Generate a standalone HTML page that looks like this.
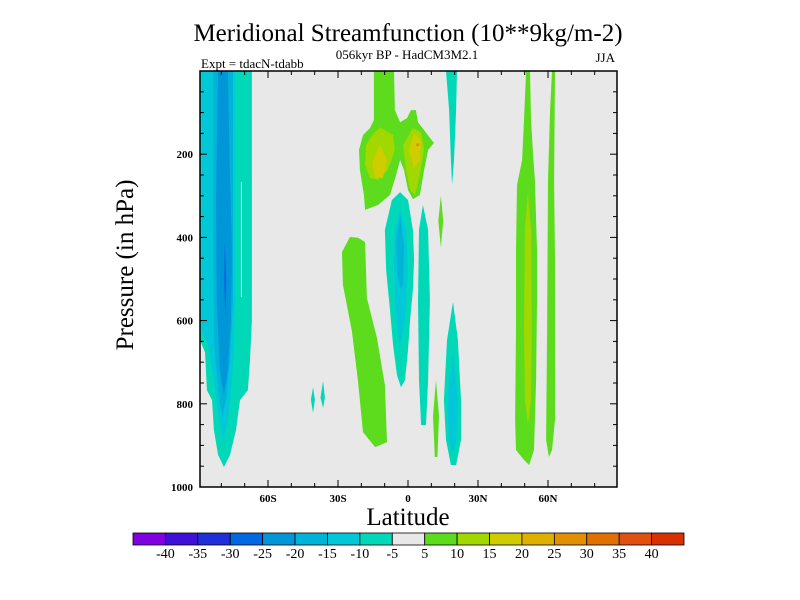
<!DOCTYPE html>
<html><head><meta charset="utf-8"><style>
body{margin:0;background:#fff;}
svg{display:block;font-family:"Liberation Serif",serif;}
</style></head><body>
<svg id="chart" width="800" height="600" viewBox="0 0 800 600">
<text x="408" y="41" font-size="25" text-anchor="middle">Meridional Streamfunction (10**9kg/m-2)</text>
<text x="407" y="59" font-size="13" text-anchor="middle">056kyr BP - HadCM3M2.1</text>
<text x="201" y="68" font-size="13">Expt = tdacN-tdabb</text>
<text x="615" y="62" font-size="13" text-anchor="end">JJA</text>
<text transform="translate(133,265) rotate(-90)" font-size="25" text-anchor="middle">Pressure (in hPa)</text>
<text x="408" y="525" font-size="25" text-anchor="middle">Latitude</text>
<g id="plot"></g>
<g id="cbar"></g>
</svg>
<script>
const levelColors = ["#8000e0","#4010d8","#2030d8","#0068e0","#0096d8","#00b4d8","#00c8d8","#00d8b8","#e8e8e8","#5cdc1c","#a0d800","#d0cc00","#e0b000","#e09000","#e07000","#e05010","#d83000"];
const cbarLabels = ["-40","-35","-30","-25","-20","-15","-10","-5","5","10","15","20","25","30","35","40"];
const latTicks = [-60,-30,0,30,60];
const latTickLabels = ["60S","30S","0","30N","60N"];
const presTicks = [200,400,600,800,1000];
// contour regions: value level and polygon as [lat, pressure]
const regionLevels = [-5,-10,-15,-20,-25,0, 5,10,10,15,15,20, 5,5,5, -5,-10,-15, -5,-5,-5,-10,-5,-5, 5,10,5];
const regionShapes = [
 [[-89.2,0],[-66.9,0],[-66.9,599],[-67.7,695],[-68.6,767],[-72,791],[-73.7,863],[-76.3,923],[-78.9,952],[-81.4,923],[-83.2,863],[-84,791],[-86.2,767],[-87,676],[-89.2,647]],
 [[-88.3,0],[-74.2,0],[-74.2,551],[-74.6,671],[-75.4,743],[-77.2,839],[-79.3,892],[-81,839],[-83.2,743],[-85.7,659],[-88.3,623]],
 [[-83.6,0],[-75,0],[-75,551],[-76.3,695],[-78,791],[-79.7,834],[-81.4,767],[-83.2,647],[-83.6,310]],
 [[-81.4,0],[-77.2,0],[-76.3,262],[-75.4,430],[-75.9,599],[-77.2,719],[-78.9,779],[-80.6,719],[-82,551],[-82.3,310]],
 [[-78.6,411],[-77.8,500],[-78.2,594],[-78.9,500]],
 [[-71.6,267],[-71.2,267],[-71.2,543],[-71.6,543]],
 [[-14.6,0],[-6,0],[-5.6,94],[-3.4,123],[-0.4,113],[1.3,94],[3.4,94],[4.3,123],[6.9,142],[11.1,173],[8.6,190],[6.9,238],[5.1,298],[2.1,308],[0,286],[-1.7,238],[-3.4,214],[-5.1,250],[-7.7,298],[-12.9,322],[-18.4,334],[-18.9,298],[-20.6,238],[-21,190],[-19.3,154],[-16.3,137],[-14.6,118]],
 [[-12,135],[-6.4,154],[-5.6,190],[-8.6,238],[-12.9,262],[-16.3,257],[-18.4,226],[-18,178],[-15.4,154]],
 [[2.1,137],[5.6,147],[6.9,190],[5.1,250],[3,298],[0.9,286],[-0.9,238],[-2.1,178]],
 [[-12,178],[-9,214],[-10.7,257],[-14.1,257],[-15.4,219]],
 [[2.6,149],[5.6,166],[5.1,214],[2.6,233],[0.4,190]],
 [[3.5,174],[4.8,174],[4.8,180],[3.5,180]],
 [[-24.9,399],[-21.4,401],[-18.4,411],[-17.6,546],[-13.3,642],[-9.9,755],[-9,892],[-14.1,904],[-19.3,868],[-21.4,748],[-24,627],[-27.9,514],[-28.3,435]],
 [[14.1,300],[15.1,360],[14.1,425],[13,360]],
 [[12,743],[13.3,830],[12.6,928],[11.5,928],[10.7,830]],
 [[-3.4,291],[0,310],[2.1,382],[2.6,454],[2.1,526],[0.9,599],[0,671],[-1.3,743],[-3,760],[-4.7,731],[-6.4,659],[-7.7,575],[-9.4,478],[-9.9,382],[-6.9,310]],
 [[-3.4,334],[-0.9,382],[0,478],[-1.3,599],[-3.4,659],[-5.1,599],[-6,478],[-5.6,382]],
 [[-3.4,346],[-1.7,418],[-2.1,514],[-3.4,526],[-4.7,478],[-5.1,406]],
 [[6.4,322],[8.6,382],[9.4,551],[8.6,743],[7.7,851],[5.6,851],[4.7,743],[4.3,551],[4.7,382]],
 [[16.3,0],[21,0],[20.6,94],[19.7,214],[18.9,274],[18.4,214],[17.6,94]],
 [[19.3,555],[21.4,647],[22.7,791],[22.7,887],[20.6,947],[18.4,947],[16.3,887],[15.4,791],[16.7,647]],
 [[19.3,671],[21.4,791],[20.6,887],[19.3,923],[17.6,887],[16.7,791]],
 [[-40.7,760],[-39.9,790],[-40.7,822],[-41.6,790]],
 [[-36.4,745],[-35.6,785],[-36.4,810],[-37.5,785]],
 [[50.6,0],[52.3,0],[52.7,113],[53.6,202],[54.4,262],[55.3,430],[55.3,551],[54.9,743],[54.4,839],[54,911],[51.9,947],[49.7,935],[46.3,911],[45.9,839],[46.3,623],[46.3,430],[46.7,274],[48.9,214],[49.7,118]],
 [[51.4,291],[52.7,382],[53.1,623],[52.7,791],[51.4,851],[50.1,791],[49.7,623],[50.1,382]],
 [[61.7,0],[63,0],[62.6,262],[63,454],[63,623],[63,839],[61.7,911],[60.4,928],[59.2,887],[59.6,623],[60,262],[60.9,94]]
];
const NS='http://www.w3.org/2000/svg';
const X0=200,X1=617,Y0=71,Y1=487;
function xs(lat){return 408+lat*70/30;}
function ys(p){return Y0+p*(Y1-Y0)/1000;}
function mk(tag,attrs,parent){const e=document.createElementNS(NS,tag);for(const k in attrs)e.setAttribute(k,attrs[k]);parent.appendChild(e);return e;}
function lvlColor(v){
  const map={"-25":"#0070e0","-20":"#0096d8","-15":"#00b4d8","-10":"#00c8d8","-5":"#00d8b8","0":"#e8e8e8","5":"#5cdc1c","10":"#a0d800","15":"#d0cc00","20":"#e09000"};
  return map[String(v)]||"#e8e8e8";
}
const plot=document.getElementById('plot');
const bg=mk('rect',{x:X0,y:Y0,width:X1-X0,height:Y1-Y0,fill:'#e8e8e8'},plot);


const clip=mk('clipPath',{id:'pc'},plot);mk('rect',{x:X0,y:Y0,width:X1-X0,height:Y1-Y0},clip);
const g=mk('g',{'clip-path':'url(#pc)'},plot);
regionShapes.forEach((pts,i)=>{
  const d=pts.map((q,j)=>(j?'L':'M')+xs(q[0]).toFixed(1)+','+ys(q[1]).toFixed(1)).join('')+'Z';
  const el=mk('path',{d:d,fill:lvlColor(regionLevels[i])},g);
  
  
});
const fr=mk('rect',{x:X0,y:Y0,width:X1-X0,height:Y1-Y0,fill:'none',stroke:'#000','stroke-width':1.5},plot);


for(let lat=-80;lat<=80;lat+=10){
  const x=xs(lat),L=(lat%30===0)?7:4;
  mk('line',{x1:x,x2:x,y1:Y1,y2:Y1-L,stroke:'#000'},plot);
  mk('line',{x1:x,x2:x,y1:Y0,y2:Y0+L,stroke:'#000'},plot);
}
latTicks.forEach((lat,i)=>{
  const t=mk('text',{x:xs(lat),y:502,'font-size':11,'text-anchor':'middle','font-weight':'bold'},plot);
  t.textContent=latTickLabels[i];
  
  
});
for(let p=50;p<1000;p+=50){
  const y=ys(p),L=(p%200===0)?7:4;
  mk('line',{x1:X0,x2:X0+L,y1:y,y2:y,stroke:'#000'},plot);
  mk('line',{x1:X1,x2:X1-L,y1:y,y2:y,stroke:'#000'},plot);
}
presTicks.forEach(p=>{
  const t=mk('text',{x:193,y:ys(p)+4,'font-size':11,'text-anchor':'end','font-weight':'bold'},plot);
  t.textContent=String(p);
  
  
});
const cb=document.getElementById('cbar');
const CX0=133,CX1=684,CY=533,CH=12,n=levelColors.length,bw=(CX1-CX0)/n;
levelColors.forEach((c,i)=>{
  const r=mk('rect',{x:CX0+i*bw,y:CY,width:bw,height:CH,fill:c,stroke:'#000','stroke-width':0.8},cb);
  
  
});
cbarLabels.forEach((s,i)=>{
  const t=mk('text',{x:CX0+(i+1)*bw,y:558,'font-size':14,'text-anchor':'middle'},cb);
  t.textContent=s;
  
  
});
</script>
</body></html>
